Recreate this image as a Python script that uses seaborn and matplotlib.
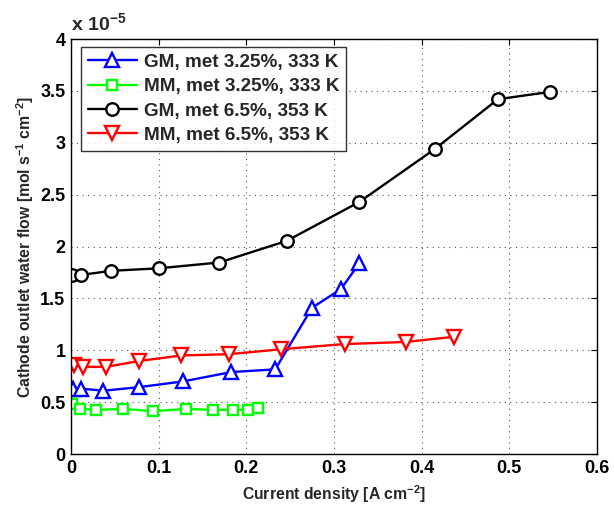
import numpy as np
import pandas as pd
import matplotlib
matplotlib.use("Agg")
import matplotlib.pyplot as plt
import seaborn as sns

# ---- data (flow in units of 1e-5 mol s^-1 cm^-2) ----
gm325_x = [0.002, 0.012, 0.037, 0.078, 0.128, 0.183, 0.233, 0.275, 0.308, 0.329]
gm325_y = [0.63, 0.63, 0.61, 0.645, 0.70, 0.79, 0.816, 1.41, 1.59, 1.84]

mm325_x = [0.001, 0.010, 0.029, 0.059, 0.094, 0.131, 0.162, 0.185, 0.202, 0.213]
mm325_y = [0.484, 0.435, 0.426, 0.435, 0.413, 0.435, 0.426, 0.426, 0.426, 0.445]

gm65_x = [0.001, 0.012, 0.046, 0.100, 0.169, 0.246, 0.329, 0.415, 0.487, 0.546]
gm65_y = [1.727, 1.727, 1.766, 1.79, 1.846, 2.054, 2.43, 2.94, 3.42, 3.49]

mm65_x = [0.003, 0.014, 0.040, 0.078, 0.126, 0.180, 0.240, 0.312, 0.382, 0.437]
mm65_y = [0.855, 0.84, 0.84, 0.897, 0.95, 0.962, 1.01, 1.06, 1.08, 1.13]

labels = ["GM, met 3.25%, 333 K", "MM, met 3.25%, 333 K",
          "GM, met 6.5%, 353 K", "MM, met 6.5%, 353 K"]
colors = ["#0000ff", "#00ff00", "#000000", "#ff0000"]
markers = ["^", "s", "o", "v"]
msizes = [10, 7.5, 9, 10]

xticks = [0, 0.1, 0.2, 0.3, 0.4, 0.5, 0.6]
xticklabels = ["0", "0.1", "0.2", "0.3", "0.4", "0.5", "0.6"]
yticks = [0, 0.5, 1, 1.5, 2, 2.5, 3, 3.5, 4]
yticklabels = ["0", "0.5", "1", "1.5", "2", "2.5", "3", "3.5", "4"]

sns.set_theme(style="white")
plt.rcParams["font.family"] = ["Liberation Sans", "DejaVu Sans"]
plt.rcParams["font.weight"] = "bold"
plt.rcParams["mathtext.fontset"] = "custom"
plt.rcParams["mathtext.rm"] = "Liberation Sans:bold"
plt.rcParams["mathtext.bf"] = "Liberation Sans:bold"
plt.rcParams["mathtext.default"] = "bf"

fig = plt.figure(figsize=(6.14, 5.07), dpi=100)
ax = fig.add_axes([0.1156, 0.1045, 0.8567, 0.8185])

series = [(gm325_x, gm325_y), (mm325_x, mm325_y), (gm65_x, gm65_y), (mm65_x, mm65_y)]
for (xs, ys), lab, c, m, ms in zip(series, labels, colors, markers, msizes):
    df = pd.DataFrame({"x": xs, "y": ys})
    sns.lineplot(data=df, x="x", y="y", ax=ax, sort=False, color=c, lw=1.7,
                 marker=m, markersize=ms, markerfacecolor="white",
                 markeredgecolor=c, markeredgewidth=1.7, label=lab)

ax.set_xlim(0, 0.6)
ax.set_ylim(0, 4)
ax.set_xticks(xticks)
ax.set_xticklabels(xticklabels)
ax.set_yticks(yticks)
ax.set_yticklabels(yticklabels)
ax.tick_params(direction="in", length=4, width=0.8, top=True, right=True,
               labelsize=13, colors="black", pad=4)
for lab in ax.get_xticklabels() + ax.get_yticklabels():
    lab.set_fontweight("bold")
ax.grid(True, linestyle=(0, (1, 4)), color="#555555", linewidth=0.8)
for sp in ax.spines.values():
    sp.set_color("black")
    sp.set_linewidth(1.0)

ax.set_xlabel("Current density [A cm$^{-2}$]", fontsize=11.3, fontweight="bold", labelpad=5)
ax.set_ylabel("Cathode outlet water flow [mol s$^{-1}$ cm$^{-2}$]", fontsize=11.3,
              fontweight="bold", labelpad=3)
ax.text(0.0, 1.012, "x 10$^{-5}$", transform=ax.transAxes, fontsize=14,
        fontweight="bold", ha="left", va="bottom")

leg = ax.legend(loc="upper left", bbox_to_anchor=(0.019, 0.981), borderaxespad=0,
                fontsize=13.6, handlelength=2.6, frameon=True, fancybox=False,
                borderpad=0.35, labelspacing=0.38, handletextpad=0.4)
leg.get_frame().set_edgecolor("black")
leg.get_frame().set_linewidth(1.0)
for t in leg.get_texts():
    t.set_fontweight("bold")

fig.savefig("out.png", dpi=100)
